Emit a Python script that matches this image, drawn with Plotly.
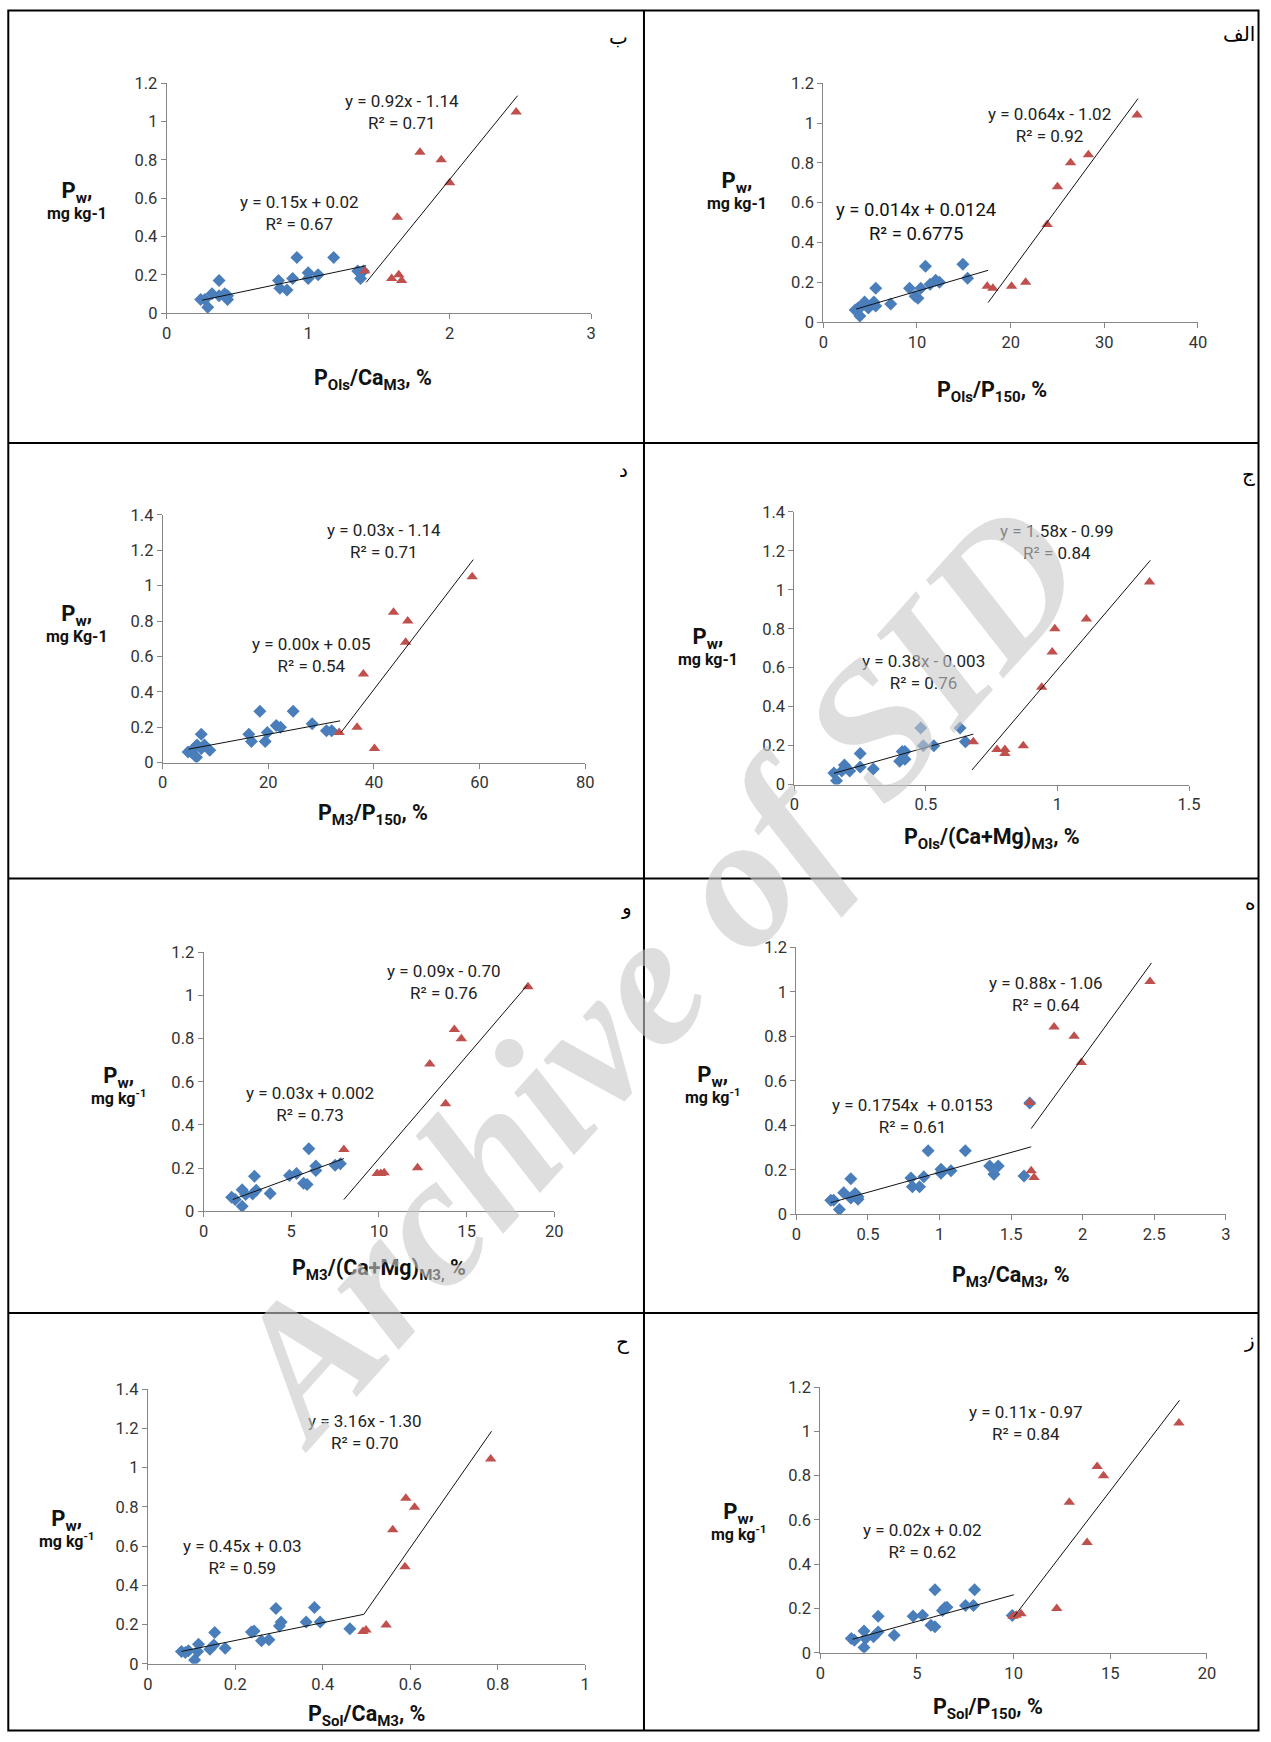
import plotly.graph_objects as go

W, H = 1271, 1742
# the photographed page comes out ~1% smaller and slightly shifted; positions below are
# given in reference pixels and converted with this measured correction.
S_X, S_Y = 0.991, 0.990
OFF_X, OFF_Y = 4.7, 7.7

# ---------------- data ----------------
# Panel ب  (P_Ols / Ca_M3)
P1_BLUE_X = [0.24, 0.27, 0.29, 0.32, 0.37, 0.37, 0.41, 0.43, 0.43, 0.79, 0.80, 0.85, 0.89, 0.92, 1.00, 1.00, 1.07, 1.18, 1.35, 1.37, 1.39]
P1_BLUE_Y = [0.07, 0.07, 0.03, 0.10, 0.17, 0.09, 0.10, 0.07, 0.09, 0.17, 0.13, 0.12, 0.18, 0.29, 0.21, 0.18, 0.20, 0.29, 0.22, 0.18, 0.22]
P1_RED_X = [1.40, 1.59, 1.63, 1.64, 1.66, 1.79, 1.94, 2.00, 2.47]
P1_RED_Y = [0.22, 0.18, 0.50, 0.20, 0.17, 0.84, 0.80, 0.68, 1.05]
P1_FITB_X, P1_FITB_Y = [0.25, 1.41], [0.067, 0.247]
P1_FITR_X, P1_FITR_Y = [1.41, 2.48], [0.16, 1.135]

# Panel الف  (P_Ols / P_150)
P2_BLUE_X = [3.4, 3.7, 3.9, 4.1, 4.4, 4.8, 5.3, 5.4, 5.6, 5.6, 7.2, 9.2, 9.8, 10.1, 10.4, 10.9, 11.4, 12.0, 12.4, 14.9, 15.4]
P2_BLUE_Y = [0.06, 0.07, 0.03, 0.08, 0.10, 0.07, 0.09, 0.10, 0.17, 0.08, 0.09, 0.17, 0.13, 0.12, 0.17, 0.28, 0.19, 0.21, 0.20, 0.29, 0.22]
P2_RED_X = [17.5, 18.1, 20.1, 21.6, 23.9, 25.0, 26.4, 28.3, 33.5]
P2_RED_Y = [0.18, 0.17, 0.18, 0.20, 0.49, 0.68, 0.80, 0.84, 1.04]
P2_FITB_X, P2_FITB_Y = [3.5, 17.6], [0.065, 0.26]
P2_FITR_X, P2_FITR_Y = [17.6, 33.6], [0.098, 1.123]

# Panel د  (P_M3 / P_150)
P3_BLUE_X = [4.8, 5.4, 6.2, 6.4, 6.5, 7.3, 7.3, 7.9, 8.9, 16.3, 16.8, 18.4, 19.4, 19.8, 21.5, 22.3, 24.7, 28.3, 31.0, 32.0]
P3_BLUE_Y = [0.06, 0.06, 0.09, 0.03, 0.10, 0.16, 0.08, 0.10, 0.07, 0.16, 0.12, 0.29, 0.12, 0.17, 0.21, 0.20, 0.29, 0.22, 0.18, 0.18]
P3_RED_X = [33.4, 36.8, 38.0, 40.1, 43.7, 46.0, 46.4, 58.6]
P3_RED_Y = [0.17, 0.20, 0.50, 0.08, 0.85, 0.68, 0.80, 1.05]
P3_FITB_X, P3_FITB_Y = [4.9, 33.6], [0.076, 0.236]
P3_FITR_X, P3_FITR_Y = [33.75, 58.8], [0.17, 1.147]

# Panel ج  (P_Ols / (Ca+Mg)_M3)
P4_BLUE_X = [0.15, 0.16, 0.18, 0.19, 0.21, 0.25, 0.25, 0.30, 0.40, 0.41, 0.42, 0.42, 0.48, 0.49, 0.53, 0.63, 0.65]
P4_BLUE_Y = [0.06, 0.02, 0.07, 0.10, 0.07, 0.09, 0.16, 0.08, 0.12, 0.17, 0.13, 0.17, 0.29, 0.20, 0.20, 0.29, 0.22]
P4_RED_X = [0.68, 0.77, 0.80, 0.80, 0.87, 0.94, 0.98, 0.99, 1.11, 1.35]
P4_RED_Y = [0.22, 0.18, 0.18, 0.16, 0.20, 0.50, 0.68, 0.80, 0.85, 1.04]
P4_FITB_X, P4_FITB_Y = [0.15, 0.68], [0.058, 0.259]
P4_FITR_X, P4_FITR_Y = [0.675, 1.353], [0.075, 1.151]

# Panel و  (P_M3 / (Ca+Mg)_M3)
P5_BLUE_X = [1.6, 1.8, 2.2, 2.2, 2.4, 2.8, 2.9, 3.0, 3.8, 4.9, 5.3, 5.7, 5.9, 6.0, 6.4, 6.4, 7.5, 7.8]
P5_BLUE_Y = [0.065, 0.054, 0.10, 0.023, 0.077, 0.08, 0.162, 0.097, 0.082, 0.165, 0.175, 0.13, 0.124, 0.289, 0.189, 0.209, 0.213, 0.22]
P5_RED_X = [8.0, 9.9, 10.1, 10.3, 12.2, 12.9, 13.8, 14.3, 14.7, 18.5]
P5_RED_Y = [0.286, 0.175, 0.175, 0.178, 0.201, 0.683, 0.498, 0.843, 0.80, 1.041]
P5_FITB_X, P5_FITB_Y = [1.66, 8.0], [0.054, 0.244]
P5_FITR_X, P5_FITR_Y = [8.0, 18.46], [0.054, 1.048]

# Panel ه  (P_M3 / Ca_M3)
P6_BLUE_X = [0.24, 0.26, 0.30, 0.33, 0.38, 0.38, 0.41, 0.43, 0.43, 0.80, 0.81, 0.86, 0.89, 0.92, 1.01, 1.01, 1.08, 1.18, 1.35, 1.38, 1.41, 1.59, 1.63]
P6_BLUE_Y = [0.063, 0.063, 0.021, 0.097, 0.073, 0.16, 0.093, 0.067, 0.078, 0.163, 0.123, 0.123, 0.168, 0.285, 0.202, 0.184, 0.195, 0.285, 0.217, 0.18, 0.217, 0.172, 0.50]
P6_RED_X = [1.63, 1.64, 1.66, 1.80, 1.94, 1.99, 2.47]
P6_RED_Y = [0.502, 0.195, 0.165, 0.842, 0.80, 0.682, 1.047]
P6_FITB_X, P6_FITB_Y = [0.24, 1.64], [0.052, 0.303]
P6_FITR_X, P6_FITR_Y = [1.64, 2.48], [0.385, 1.13]

# Panel ح  (P_Sol / Ca_M3)
P7_BLUE_X = [0.077, 0.086, 0.093, 0.107, 0.114, 0.116, 0.142, 0.151, 0.153, 0.177, 0.237, 0.243, 0.26, 0.277, 0.293, 0.301, 0.305, 0.362, 0.381, 0.394, 0.462]
P7_BLUE_Y = [0.063, 0.057, 0.066, 0.019, 0.063, 0.10, 0.074, 0.096, 0.159, 0.079, 0.162, 0.167, 0.117, 0.122, 0.282, 0.193, 0.213, 0.213, 0.287, 0.213, 0.179]
P7_RED_X = [0.492, 0.499, 0.545, 0.56, 0.588, 0.59, 0.61, 0.784]
P7_RED_Y = [0.164, 0.172, 0.198, 0.683, 0.494, 0.844, 0.798, 1.043]
P7_FITB_X, P7_FITB_Y = [0.077, 0.494], [0.063, 0.252]
P7_FITR_X, P7_FITR_Y = [0.494, 0.786], [0.252, 1.185]

# Panel ز  (P_Sol / P_150)
P8_BLUE_X = [1.6, 1.76, 2.26, 2.26, 2.34, 2.75, 2.99, 2.99, 3.82, 4.8, 5.29, 5.72, 5.93, 5.93, 6.32, 6.44, 6.55, 7.51, 7.92, 7.98, 9.93]
P8_BLUE_Y = [0.064, 0.057, 0.098, 0.024, 0.064, 0.073, 0.165, 0.094, 0.079, 0.165, 0.17, 0.124, 0.118, 0.285, 0.191, 0.203, 0.206, 0.213, 0.213, 0.285, 0.168]
P8_RED_X = [9.97, 10.13, 10.38, 12.23, 12.88, 13.8, 14.32, 14.65, 18.55]
P8_RED_Y = [0.165, 0.17, 0.176, 0.2, 0.68, 0.498, 0.841, 0.799, 1.038]
P8_FITB_X, P8_FITB_Y = [1.66, 10.01], [0.061, 0.262]
P8_FITR_X, P8_FITR_Y = [10.01, 18.58], [0.162, 1.14]

# labels
LETTERS = ["ب", "الف", "د", "ج", "و", "ه", "ح", "ز"]
X_TITLES = [
    "<b>P<sub>Ols</sub>/Ca<sub>M3</sub>, %</b>",
    "<b>P<sub>Ols</sub>/P<sub>150</sub>, %</b>",
    "<b>P<sub>M3</sub>/P<sub>150</sub>, %</b>",
    "<b>P<sub>Ols</sub>/(Ca+Mg)<sub>M3</sub>, %</b>",
    "<b>P<sub>M3</sub>/(Ca+Mg)<sub>M3,</sub> %</b>",
    "<b>P<sub>M3</sub>/Ca<sub>M3</sub>, %</b>",
    "<b>P<sub>Sol</sub>/Ca<sub>M3</sub>, %</b>",
    "<b>P<sub>Sol</sub>/P<sub>150</sub>, %</b>",
]
Y_UNITS = [
    "<b>mg kg-1</b>", "<b>mg kg-1</b>", "<b>mg Kg-1</b>", "<b>mg kg-1</b>",
    "<b>mg kg<sup>-1</sup></b>", "<b>mg kg<sup>-1</sup></b>",
    "<b>mg kg<sup>-1</sup></b>", "<b>mg kg<sup>-1</sup></b>",
]
EQ_UPPER = [
    "y = 0.92x - 1.14<br>R² = 0.71", "y = 0.064x - 1.02<br>R² = 0.92",
    "y = 0.03x - 1.14<br>R² = 0.71", "y = 1.58x - 0.99<br>R² = 0.84",
    "y = 0.09x - 0.70<br>R² = 0.76", "y = 0.88x - 1.06<br>R² = 0.64",
    "y = 3.16x - 1.30<br>R² = 0.70", "y = 0.11x - 0.97<br>R² = 0.84",
]
EQ_LOWER = [
    "y = 0.15x + 0.02<br>R² = 0.67", "y = 0.014x + 0.0124<br>R² = 0.6775",
    "y = 0.00x + 0.05<br>R² = 0.54", "y = 0.38x - 0.003<br>R² = 0.76",
    "y = 0.03x + 0.002<br>R² = 0.73", "y = 0.1754x  + 0.0153<br>R² = 0.61",
    "y = 0.45x + 0.03<br>R² = 0.59", "y = 0.02x + 0.02<br>R² = 0.62",
]
X_RANGES = [[0, 3], [0, 40], [0, 80], [0, 1.5], [0, 20], [0, 3], [0, 1], [0, 20]]
X_DTICK = [1, 10, 20, 0.5, 5, 0.5, 0.2, 5]
Y_RANGES = [[0, 1.2], [0, 1.2], [0, 1.4], [0, 1.4], [0, 1.2], [0, 1.2], [0, 1.4], [0, 1.2]]

BLUE = [(P1_BLUE_X, P1_BLUE_Y), (P2_BLUE_X, P2_BLUE_Y), (P3_BLUE_X, P3_BLUE_Y), (P4_BLUE_X, P4_BLUE_Y),
        (P5_BLUE_X, P5_BLUE_Y), (P6_BLUE_X, P6_BLUE_Y), (P7_BLUE_X, P7_BLUE_Y), (P8_BLUE_X, P8_BLUE_Y)]
RED = [(P1_RED_X, P1_RED_Y), (P2_RED_X, P2_RED_Y), (P3_RED_X, P3_RED_Y), (P4_RED_X, P4_RED_Y),
       (P5_RED_X, P5_RED_Y), (P6_RED_X, P6_RED_Y), (P7_RED_X, P7_RED_Y), (P8_RED_X, P8_RED_Y)]
FITB = [(P1_FITB_X, P1_FITB_Y), (P2_FITB_X, P2_FITB_Y), (P3_FITB_X, P3_FITB_Y), (P4_FITB_X, P4_FITB_Y),
        (P5_FITB_X, P5_FITB_Y), (P6_FITB_X, P6_FITB_Y), (P7_FITB_X, P7_FITB_Y), (P8_FITB_X, P8_FITB_Y)]
FITR = [(P1_FITR_X, P1_FITR_Y), (P2_FITR_X, P2_FITR_Y), (P3_FITR_X, P3_FITR_Y), (P4_FITR_X, P4_FITR_Y),
        (P5_FITR_X, P5_FITR_Y), (P6_FITR_X, P6_FITR_Y), (P7_FITR_X, P7_FITR_Y), (P8_FITR_X, P8_FITR_Y)]

# ---------------- layout (reference-pixel geometry) ----------------
BOXES = [
    (167, 593, 82, 312), (826, 1202, 82, 321),
    (163, 587, 514, 762), (797, 1193, 511, 784),
    (204, 556, 952, 1211), (799, 1230, 947, 1214),
    (148, 587, 1389, 1664), (823, 1211, 1387, 1653),
]
EQ_UP_POS = [(1.66, 1.05), (24.2, 0.99), (41.9, 1.25), (1.0, 1.246), (13.7, 1.062), (1.744, 0.99), (0.497, 1.18), (10.65, 1.036)]
EQ_LO_POS = [(0.94, 0.52), (9.9, 0.505), (28.1, 0.61), (0.49, 0.577), (6.09, 0.496), (0.81, 0.443), (0.217, 0.545), (5.29, 0.505)]
YT_POS = [(77, 199), (739, 189), (77, 623), (710, 646), (119, 1085), (715, 1084), (66, 1529), (741, 1522)]
XT_POS = [(374, 379), (995, 391), (374, 814), (995, 838), (380, 1269), (1014, 1276), (368, 1716), (991, 1709)]
LET_POS = [(620, 36), (1252, 33), (625, 469), (1259, 473), (628, 907), (1263, 903), (624, 1342), (1261, 1340)]


def px(x):
    return ((x - OFF_X) / S_X) / W


def py(y):
    return 1 - ((y - OFF_Y) / S_Y) / H


fig = go.Figure()
annotations = []
FONT = "Roboto, Arial, sans-serif"
TICKFONT = dict(family=FONT, size=16.5, color="#333")
EQFONT = dict(family=FONT, size=17, color="#222")

for i in range(8):
    n = "" if i == 0 else str(i + 1)
    xa, ya = "x" + n, "y" + n
    x0, x1, yt, yb = BOXES[i]
    axstyle = dict(showgrid=False, zeroline=False, showline=True, linecolor="#868686", linewidth=1,
                   ticks="outside", ticklen=5, tickcolor="#868686", tickwidth=1, tickfont=TICKFONT)
    fig.update_layout(**{
        "xaxis" + n: dict(domain=[px(x0), px(x1)], range=X_RANGES[i], dtick=X_DTICK[i], tick0=0,
                          anchor=ya, fixedrange=True, **axstyle),
        "yaxis" + n: dict(domain=[py(yb), py(yt)], range=Y_RANGES[i], dtick=0.2, tick0=0,
                          anchor=xa, fixedrange=True, **axstyle),
    })
    bx, by = BLUE[i]
    rx, ry = RED[i]
    fig.add_trace(go.Scatter(x=bx, y=by, mode="markers", xaxis=xa, yaxis=ya, showlegend=False,
                             hoverinfo="skip",
                             marker=dict(symbol="diamond", size=10, color="#4A7EBB", line=dict(width=0))))
    fig.add_trace(go.Scatter(x=rx, y=ry, mode="markers", xaxis=xa, yaxis=ya, showlegend=False,
                             hoverinfo="skip",
                             marker=dict(symbol="triangle-up", size=10, color="#C0504D", line=dict(width=0))))
    for fx, fy in (FITB[i], FITR[i]):
        fig.add_trace(go.Scatter(x=fx, y=fy, mode="lines", xaxis=xa, yaxis=ya, showlegend=False,
                                 hoverinfo="skip", line=dict(color="#111", width=1)))
    ux, uy = EQ_UP_POS[i]
    lx, ly = EQ_LO_POS[i]
    annotations.append(dict(x=ux, y=uy, xref=xa, yref=ya, text=EQ_UPPER[i], showarrow=False,
                            xanchor="center", yanchor="middle", font=EQFONT, align="center"))
    lofont = dict(EQFONT)
    if i == 1:
        lofont = dict(family=FONT, size=18.5, color="#111")
    annotations.append(dict(x=lx, y=ly, xref=xa, yref=ya, text=EQ_LOWER[i], showarrow=False,
                            xanchor="center", yanchor="middle", font=lofont, align="center"))
    cx, cy = YT_POS[i]
    annotations.append(dict(x=px(cx), y=py(cy), xref="paper", yref="paper", showarrow=False,
                            xanchor="center", yanchor="middle", align="center",
                            text="<span style='font-size:22px'><b>P<sub>w</sub>,</b></span><br>" + Y_UNITS[i],
                            font=dict(family=FONT, size=16, color="#111")))
    tx, ty = XT_POS[i]
    annotations.append(dict(x=px(tx), y=py(ty), xref="paper", yref="paper", showarrow=False,
                            xanchor="center", yanchor="middle",
                            text=X_TITLES[i], font=dict(family=FONT, size=21.5, color="#111")))
    lx2, ly2 = LET_POS[i]
    letfont = dict(family="DejaVu Sans, Noto Sans, sans-serif", size=20, color="#000")
    if i % 2 == 1:
        # right column: the letter sits against the right edge of the page
        annotations.append(dict(x=1 - 3 / W, y=py(ly2), xref="paper", yref="paper", showarrow=False,
                                xanchor="right", yanchor="middle", text=LETTERS[i], font=letfont))
    else:
        annotations.append(dict(x=px(lx2), y=py(ly2), xref="paper", yref="paper", showarrow=False,
                                xanchor="center", yanchor="middle", text=LETTERS[i], font=letfont))

# watermark
annotations.append(dict(x=px(655), y=py(972), xref="paper", yref="paper", showarrow=False,
                        xanchor="center", yanchor="middle",
                        text="<b><i>Archive of SID</i></b>", textangle=-48,
                        font=dict(family="Liberation Serif, DejaVu Serif, serif", size=188,
                                  color="rgba(200,200,200,0.6)")))


# frame (clamped to the page)
def cl(v, lo, hi):
    return max(lo, min(hi, v))


FX0, FX1 = cl(px(8), 1.5 / W, 1 - 1.5 / W), cl(px(1269), 1.5 / W, 1 - 1.5 / W)
FY0, FY1 = cl(py(1741), 1.5 / H, 1 - 1.5 / H), cl(py(8), 1.5 / H, 1 - 1.5 / H)
shapes = [
    dict(type="rect", xref="paper", yref="paper", x0=FX0, x1=FX1, y0=FY0, y1=FY1,
         line=dict(color="#000", width=2)),
    dict(type="line", xref="paper", yref="paper", x0=px(646), x1=px(646), y0=FY0, y1=FY1,
         line=dict(color="#000", width=2)),
]
for yy in (442, 878, 1313):
    shapes.append(dict(type="line", xref="paper", yref="paper", x0=FX0, x1=FX1, y0=py(yy), y1=py(yy),
                       line=dict(color="#000", width=2)))

fig.update_layout(width=W, height=H, margin=dict(l=0, r=0, t=0, b=0),
                  paper_bgcolor="white", plot_bgcolor="white", hovermode=False,
                  annotations=annotations, shapes=shapes, showlegend=False)

fig.write_html("out.html", config={"displayModeBar": False, "responsive": False},
               post_script="document.body.style.margin='0';document.body.style.padding='0';"
                           "document.body.style.overflow='hidden';")
